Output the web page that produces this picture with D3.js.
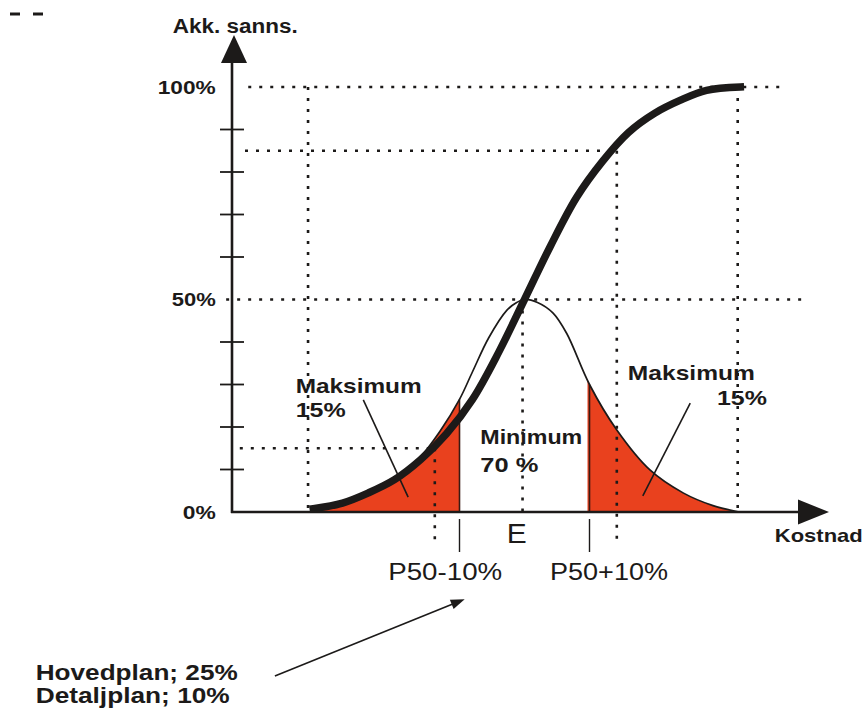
<!DOCTYPE html>
<html>
<head>
<meta charset="utf-8">
<script src="https://cdn.jsdelivr.net/npm/d3@7"></script>
<style>
  body { margin: 0; background: #fff; }
  svg { display: block; font-family: "Liberation Sans", Arial, sans-serif; }
</style>
</head>
<body>
<div id="chart"></div>
<script>
// cumulative probability curve (cost index, % cumulative)
const cdfCost = [67.5, 72, 76, 80, 84, 88, 92, 96, 100, 104, 108, 112, 116, 120, 124, 128, 133.2];
const cdfProb = [0.8, 2.1, 4.5, 7.6, 12.3, 18.4, 26.5, 37.5, 50, 62.6, 74, 82.5, 89.3, 93.8, 96.9, 99.2, 100];

// density curve (drawn on the same % scale)
const pdfCost = [67, 72, 76, 80, 84, 87, 90, 92, 94.5, 97.3, 98.8, 100, 102, 104.4, 106.5, 110, 114.2, 119.3, 124.4, 129, 133];
const pdfProb = [0, 1.8, 4.3, 7.5, 13, 19, 26.5, 33, 41, 47.5, 49.3, 50, 49.3, 46.8, 42, 30, 19.3, 9.9, 4.5, 1.5, 0];

// P50 -10% / +10% limits of the shaded tails
const tailLimits = [90, 110];

const yTickValues = [10, 20, 30, 40, 60, 70, 80, 90];
const yTickLabels = ['0%', '50%', '100%'];
const yLabelValues = [0, 50, 100];

// dotted guide lines
const hGuides = [
  { p: 100, from: 57.5, to: 140 },
  { p: 85, from: 57, to: 114.2 },
  { p: 50, from: 54.1, to: 143.2 },
  { p: 15, from: 56.2, to: 86.5 }
];
const vGuides = [
  { cost: 66.7, from: 100, to: 0 },
  { cost: 86.2, from: 15, to: -8 },
  { cost: 99.7, from: 50, to: 0 },
  { cost: 114.2, from: 85, to: -8 },
  { cost: 132.8, from: 100, to: -0.5 }
];

const width = 865;
const height = 710;
const ink = '#1c1a19';
const red = '#e9411e';

const x = d3.scaleLinear().domain([55, 145]).range([232, 817]);
const y = d3.scaleLinear().domain([0, 100]).range([512, 87]);

const svg = d3.select('#chart').append('svg')
  .attr('width', width)
  .attr('height', height);

const cdf = cdfCost.map((c, i) => ({ cost: c, p: cdfProb[i] }));
const pdf = pdfCost.map((c, i) => ({ cost: c, p: pdfProb[i] }));

const bis = d3.bisector(d => d.cost).left;
function pdfAt (c) {
  const i = bis(pdf, c);
  if (pdf[i].cost === c) return pdf[i].p;
  const a = pdf[i - 1], b = pdf[i];
  return a.p + (b.p - a.p) * (c - a.cost) / (b.cost - a.cost);
}

const curve = d3.curveCatmullRom.alpha(0.5);

// shaded tails
const area = d3.area()
  .x(d => x(d.cost))
  .y0(y(0))
  .y1(d => y(d.p))
  .curve(curve);

const defs = svg.append('defs');
const clips = [[pdfCost[0], tailLimits[0]], [tailLimits[1], pdfCost[pdfCost.length - 1]]];
clips.forEach((c, i) => {
  defs.append('clipPath').attr('id', 'tail' + i)
    .append('rect')
    .attr('x', x(c[0]) - 2)
    .attr('y', 0)
    .attr('width', x(c[1]) - x(c[0]) + 2)
    .attr('height', y(0));
  svg.append('path')
    .datum(pdf)
    .attr('clip-path', 'url(#tail' + i + ')')
    .attr('d', area)
    .attr('fill', red);
});

tailLimits.forEach(c => {
  svg.append('line')
    .attr('x1', x(c)).attr('x2', x(c))
    .attr('y1', y(0)).attr('y2', y(pdfAt(c)))
    .attr('stroke', '#3a1a12')
    .attr('stroke-width', 1.6);
});

// dotted guides
const dots = svg.append('g')
  .attr('stroke', ink)
  .attr('stroke-width', 2.6)
  .attr('stroke-dasharray', '3 8');

dots.selectAll('.h').data(hGuides).enter().append('line')
  .attr('x1', d => x(d.from)).attr('x2', d => x(d.to))
  .attr('y1', d => y(d.p)).attr('y2', d => y(d.p));

dots.selectAll('.v').data(vGuides).enter().append('line')
  .attr('x1', d => x(d.cost)).attr('x2', d => x(d.cost))
  .attr('y1', d => y(d.from)).attr('y2', d => y(d.to));

// density curve
const line = d3.line()
  .x(d => x(d.cost))
  .y(d => y(d.p))
  .curve(curve);

svg.append('path')
  .datum(pdf)
  .attr('d', line)
  .attr('fill', 'none')
  .attr('stroke', ink)
  .attr('stroke-width', 1.7);

// axes
const x0 = x.range()[0];
const axisG = svg.append('g').attr('stroke', ink).attr('fill', ink);

axisG.append('line')
  .attr('x1', x0).attr('x2', x0)
  .attr('y1', y(0) + 1).attr('y2', 60)
  .attr('stroke-width', 2.6);
axisG.append('path')
  .attr('d', `M${x0 + 2},35 L${x0 + 15},63 L${x0 - 11},63 Z`)
  .attr('stroke', 'none');

axisG.append('line')
  .attr('x1', x0 - 1).attr('x2', 800)
  .attr('y1', y(0)).attr('y2', y(0))
  .attr('stroke-width', 2.6);
axisG.append('path')
  .attr('d', `M829,${y(0)} L798,${y(0) - 12.5} L798,${y(0) + 12.5} Z`)
  .attr('stroke', 'none');

axisG.selectAll('.tick').data(yTickValues).enter().append('line')
  .attr('x1', x0 - 12).attr('x2', x0 + 12)
  .attr('y1', d => y(d)).attr('y2', d => y(d))
  .attr('stroke-width', 1.8);

tailLimits.forEach(c => {
  axisG.append('line')
    .attr('x1', x(c)).attr('x2', x(c))
    .attr('y1', y(0) + 7).attr('y2', y(0) + 40)
    .attr('stroke-width', 1.4);
});

// cumulative curve
svg.append('path')
  .datum(cdf)
  .attr('d', line)
  .attr('fill', 'none')
  .attr('stroke', ink)
  .attr('stroke-width', 7.5)
  .attr('stroke-linecap', 'square');

// leader lines and arrow
const leaders = [
  [[75.2, 26.4], [82.1, 3.5]],
  [[125.5, 25.6], [118.2, 3.8]],
  [[61.6, -38.6], [90.2, -20.9]]
];
leaders.forEach(l => {
  svg.append('line')
    .attr('x1', x(l[0][0])).attr('y1', y(l[0][1]))
    .attr('x2', x(l[1][0])).attr('y2', y(l[1][1]))
    .attr('stroke', ink)
    .attr('stroke-width', 1.6);
});
{
  const tip = [x(90.8), y(-20.5)];
  const from = [x(61.6), y(-38.6)];
  const ang = Math.atan2(tip[1] - from[1], tip[0] - from[0]);
  const len = 14, half = 5;
  const bx = tip[0] - len * Math.cos(ang), by = tip[1] - len * Math.sin(ang);
  svg.append('path')
    .attr('d', `M${tip[0]},${tip[1]} L${bx - half * Math.sin(ang)},${by + half * Math.cos(ang)} L${bx + half * Math.sin(ang)},${by - half * Math.cos(ang)} Z`)
    .attr('fill', ink);
}

// texts
function label (t, cx, p, opts) {
  const el = svg.append('text')
    .attr('x', x(cx))
    .attr('y', y(p))
    .attr('fill', ink)
    .attr('font-size', opts.size + 'px')
    .attr('font-weight', opts.bold ? 'bold' : 'normal')
    .attr('text-anchor', opts.anchor || 'start')
    .text(t);
  if (opts.dy) el.attr('dy', opts.dy);
  if (opts.w) el.attr('textLength', opts.w).attr('lengthAdjust', 'spacingAndGlyphs');
  return el;
}

const yLabelWidths = [33, 44, 58];
yTickLabels.forEach((t, i) => {
  label(t, 52.5, yLabelValues[i], { size: 19, bold: true, anchor: 'end', dy: '0.35em', w: yLabelWidths[i] });
});

label('Akk. sanns.', 45.9, 112.7, { size: 20, bold: true, w: 125 });
label('Kostnad', 138.5, -7.1, { size: 19, bold: true, w: 88 });

label('Maksimum', 64.8, 28, { size: 21, bold: true, w: 126 });
label('15%', 64.8, 22.4, { size: 21, bold: true, w: 50 });
label('Minimum', 93.2, 16, { size: 21, bold: true, w: 102 });
label('70 %', 93.2, 9.4, { size: 21, bold: true, w: 58 });
label('Maksimum', 115.9, 31.1, { size: 21, bold: true, w: 127 });
label('15%', 137.3, 25.2, { size: 21, bold: true, anchor: 'end', w: 50 });

label('E', 98.8, -7.3, { size: 28, anchor: 'middle', w: 20 });
label('P50-10%', 87.8, -16, { size: 24, anchor: 'middle', w: 114 });
label('P50+10%', 113, -16, { size: 24, anchor: 'middle', w: 118 });

label('Hovedplan; 25%', 24.8, -39.5, { size: 22, bold: true, w: 202 });
label('Detaljplan; 10%', 24.8, -45, { size: 22, bold: true, w: 194 });

// stray marks at the top-left corner of the scan
[[10, 20], [33, 43]].forEach(s => {
  svg.append('line')
    .attr('x1', s[0]).attr('x2', s[1])
    .attr('y1', 14).attr('y2', 14)
    .attr('stroke', ink)
    .attr('stroke-width', 3);
});
</script>
</body>
</html>
